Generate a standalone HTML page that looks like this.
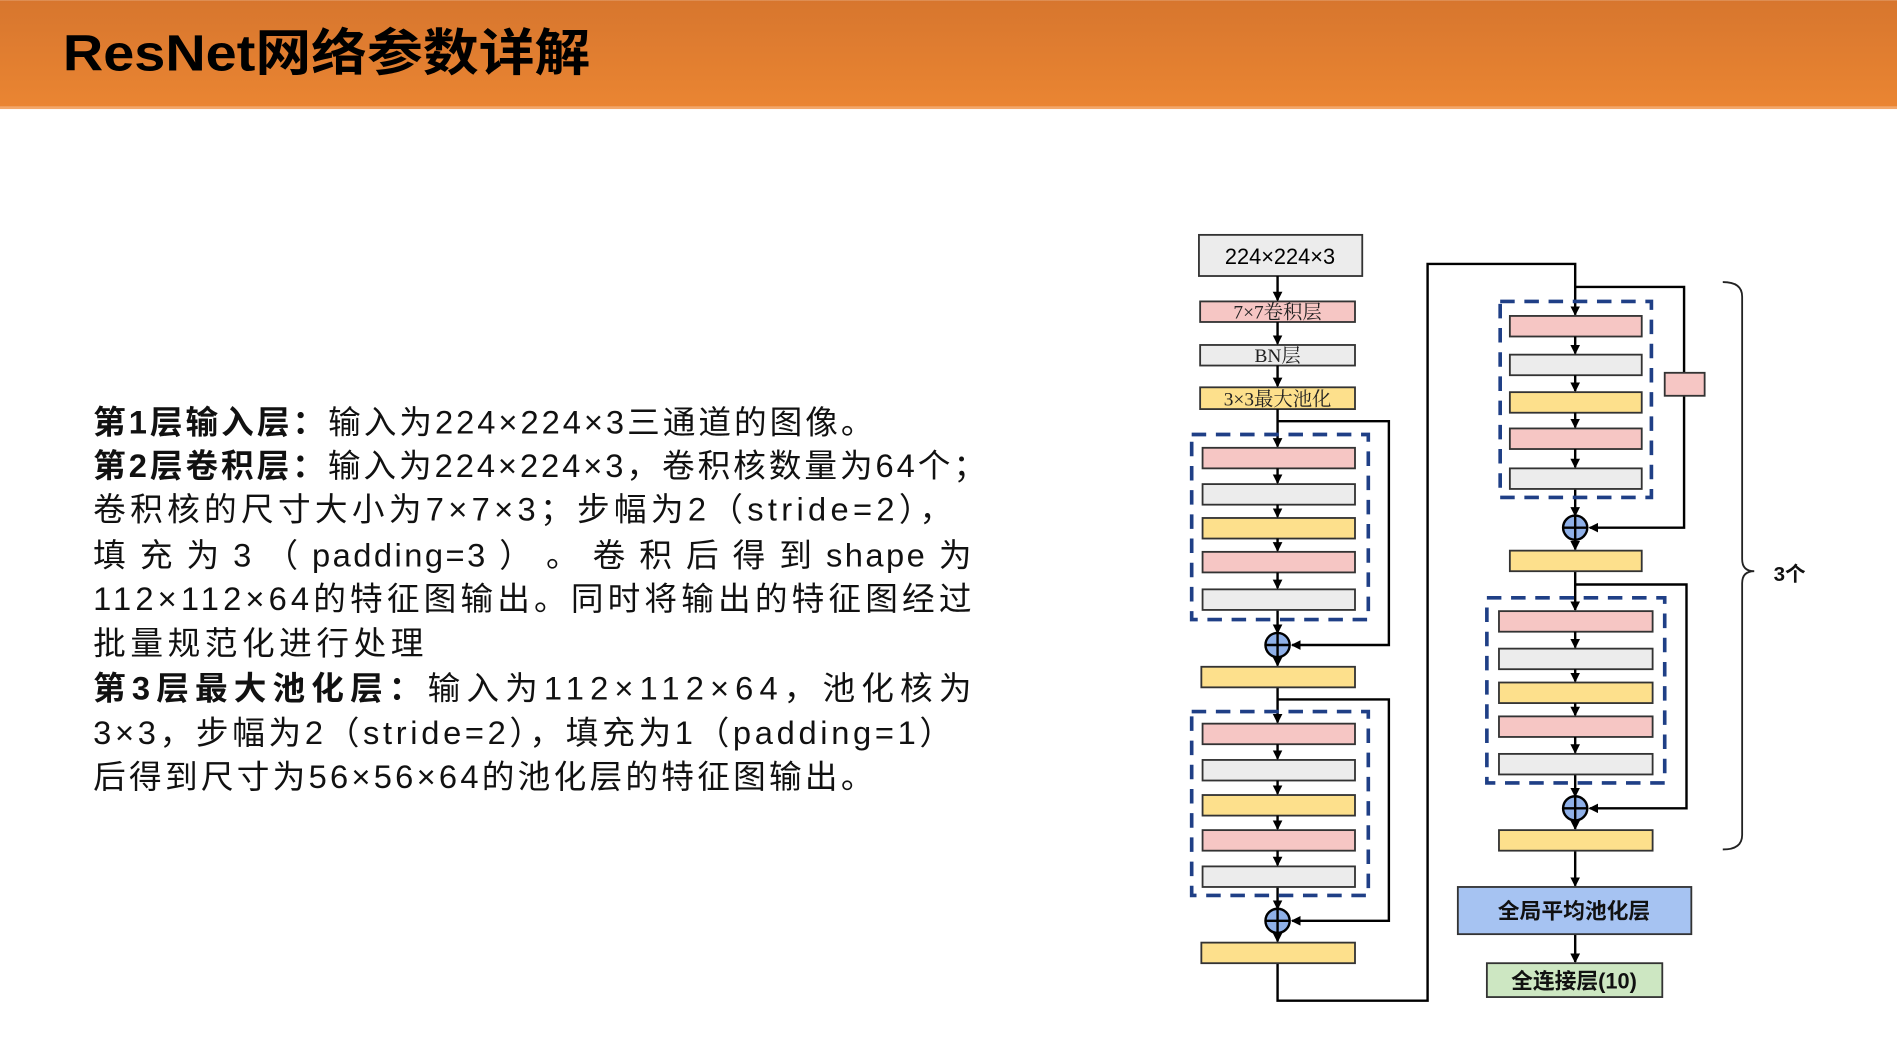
<!DOCTYPE html>
<html><head><meta charset="utf-8"><style>
html,body{margin:0;padding:0;background:#fff;width:1897px;height:1042px;overflow:hidden}
svg{display:block}
</style></head><body>
<svg width="1897" height="1042" viewBox="0 0 1568 861" xmlns="http://www.w3.org/2000/svg" font-family="'Liberation Sans','Noto Sans CJK SC',sans-serif">
<defs>
<linearGradient id="hg" x1="0" y1="0" x2="0" y2="1"><stop offset="0" stop-color="#d7762e"/><stop offset="1" stop-color="#ea8532"/></linearGradient>
<marker id="a" markerWidth="8" markerHeight="8" refX="7" refY="4" orient="auto" markerUnits="userSpaceOnUse"><path d="M0,0 L8,4 L0,8 z" fill="#000"/></marker>
</defs>
<rect x="0" y="0" width="1568" height="88" fill="url(#hg)"/>
<rect x="0" y="88" width="1568" height="2" fill="#f3a76a"/>
<text x="52" y="58" font-size="42" font-weight="bold" fill="#000" textLength="436" lengthAdjust="spacingAndGlyphs">ResNet网络参数详解</text>
<g font-size="27" fill="#111">
<text x="77" y="358" textLength="645" lengthAdjust="spacing"><tspan font-weight="bold">第1层输入层：</tspan>输入为224×224×3三通道的图像。</text>
<text x="77" y="394" textLength="738" lengthAdjust="spacing"><tspan font-weight="bold">第2层卷积层：</tspan>输入为224×224×3，卷积核数量为64个；</text>
<text x="77" y="430" textLength="710" lengthAdjust="spacing">卷积核的尺寸大小为7×7×3；步幅为2（stride=2），</text>
<text x="77" y="468" textLength="726" lengthAdjust="spacing">填 充 为 3 （ padding=3 ） 。 卷 积 后 得 到 shape 为</text>
<text x="77" y="504" textLength="726" lengthAdjust="spacing">112×112×64的特征图输出。同时将输出的特征图经过</text>
<text x="77" y="541" textLength="273" lengthAdjust="spacing">批量规范化进行处理</text>
<text x="77" y="578" textLength="726" lengthAdjust="spacing"><tspan font-weight="bold">第3层最大池化层：</tspan>输入为112×112×64，池化核为</text>
<text x="77" y="615" textLength="710" lengthAdjust="spacing">3×3，步幅为2（stride=2），填充为1（padding=1）</text>
<text x="77" y="651" textLength="645" lengthAdjust="spacing">后得到尺寸为56×56×64的池化层的特征图输出。</text>
</g>
<g stroke="#333" stroke-width="1.5">
<rect x="991" y="194" width="135" height="34" fill="#ececec"/>
<rect x="992" y="249" width="128" height="17" fill="#f6c6c4"/>
<rect x="992" y="285" width="128" height="17" fill="#ececec"/>
<rect x="992" y="320" width="128" height="18" fill="#fde08c"/>
</g>
<text x="1058" y="218" font-size="18" text-anchor="middle">224×224×3</text>
<g font-family="'Liberation Serif','Noto Serif CJK SC',serif" font-size="16" text-anchor="middle" fill="#222">
<text x="1056" y="263">7×7卷积层</text><text x="1056" y="299">BN层</text><text x="1056" y="335">3×3最大池化</text>
</g>
<g stroke="#000" stroke-width="2" fill="none">
<line x1="1056" y1="228" x2="1056" y2="248" marker-end="url(#a)"/>
<line x1="1056" y1="266" x2="1056" y2="284" marker-end="url(#a)"/>
<line x1="1056" y1="302" x2="1056" y2="319" marker-end="url(#a)"/>
<line x1="1056" y1="338" x2="1056" y2="369" marker-end="url(#a)"/>
<polyline points="1056,348 1148,348 1148,533 1068,533" marker-end="url(#a)"/>
<line x1="1056" y1="504" x2="1056" y2="523" marker-end="url(#a)"/>
<line x1="1056" y1="543" x2="1056" y2="550" marker-end="url(#a)"/>
<line x1="1056" y1="568" x2="1056" y2="597" marker-end="url(#a)"/>
<polyline points="1056,578 1148,578 1148,761 1068,761" marker-end="url(#a)"/>
<line x1="1056" y1="733" x2="1056" y2="751" marker-end="url(#a)"/>
<line x1="1056" y1="771" x2="1056" y2="778" marker-end="url(#a)"/>
<polyline points="1056,796 1056,827 1180,827 1180,218 1302,218 1302,260" marker-end="url(#a)"/>
<polyline points="1302,237 1392,237 1392,436 1314,436" marker-end="url(#a)"/>
<line x1="1302" y1="404" x2="1302" y2="426" marker-end="url(#a)"/>
<line x1="1302" y1="446" x2="1302" y2="454" marker-end="url(#a)"/>
<line x1="1302" y1="472" x2="1302" y2="504" marker-end="url(#a)"/>
<polyline points="1302,483 1394,483 1394,668 1314,668" marker-end="url(#a)"/>
<line x1="1302" y1="640" x2="1302" y2="658" marker-end="url(#a)"/>
<line x1="1302" y1="678" x2="1302" y2="685" marker-end="url(#a)"/>
<line x1="1302" y1="703" x2="1302" y2="732" marker-end="url(#a)"/>
<line x1="1302" y1="772" x2="1302" y2="795" marker-end="url(#a)"/>
</g>
<g stroke="#333" stroke-width="1.5">
<rect x="994" y="370" width="126" height="17" fill="#f6c6c4"/><rect x="994" y="400" width="126" height="17" fill="#ececec"/><rect x="994" y="428" width="126" height="17" fill="#fde08c"/><rect x="994" y="456" width="126" height="17" fill="#f6c6c4"/><rect x="994" y="487" width="126" height="17" fill="#ececec"/>
<rect x="993" y="551" width="127" height="17" fill="#fde08c"/>
<rect x="994" y="598" width="126" height="17" fill="#f6c6c4"/><rect x="994" y="628" width="126" height="17" fill="#ececec"/><rect x="994" y="657" width="126" height="17" fill="#fde08c"/><rect x="994" y="686" width="126" height="17" fill="#f6c6c4"/><rect x="994" y="716" width="126" height="17" fill="#ececec"/>
<rect x="993" y="779" width="127" height="17" fill="#fde08c"/>
<rect x="1248" y="261" width="109" height="17" fill="#f6c6c4"/><rect x="1248" y="293" width="109" height="17" fill="#ececec"/><rect x="1248" y="324" width="109" height="17" fill="#fde08c"/><rect x="1248" y="354" width="109" height="17" fill="#f6c6c4"/><rect x="1248" y="387" width="109" height="17" fill="#ececec"/>
<rect x="1248" y="455" width="109" height="17" fill="#fde08c"/>
<rect x="1376" y="308" width="33" height="19" fill="#f6c6c4"/>
<rect x="1239" y="505" width="127" height="17" fill="#f6c6c4"/><rect x="1239" y="536" width="127" height="17" fill="#ececec"/><rect x="1239" y="564" width="127" height="17" fill="#fde08c"/><rect x="1239" y="592" width="127" height="17" fill="#f6c6c4"/><rect x="1239" y="623" width="127" height="17" fill="#ececec"/>
<rect x="1239" y="686" width="127" height="17" fill="#fde08c"/>
<rect x="1205" y="733" width="193" height="39" fill="#a6c3f2"/>
<rect x="1229" y="796" width="145" height="28" fill="#cde7c2"/>
</g>
<g stroke="#000" stroke-width="2">
<line x1="1056" y1="387" x2="1056" y2="399" marker-end="url(#a)"/><line x1="1056" y1="417" x2="1056" y2="427" marker-end="url(#a)"/><line x1="1056" y1="445" x2="1056" y2="455" marker-end="url(#a)"/><line x1="1056" y1="473" x2="1056" y2="486" marker-end="url(#a)"/>
<line x1="1056" y1="615" x2="1056" y2="627" marker-end="url(#a)"/><line x1="1056" y1="645" x2="1056" y2="656" marker-end="url(#a)"/><line x1="1056" y1="674" x2="1056" y2="685" marker-end="url(#a)"/><line x1="1056" y1="703" x2="1056" y2="715" marker-end="url(#a)"/>
<line x1="1302" y1="278" x2="1302" y2="292" marker-end="url(#a)"/><line x1="1302" y1="310" x2="1302" y2="323" marker-end="url(#a)"/><line x1="1302" y1="341" x2="1302" y2="353" marker-end="url(#a)"/><line x1="1302" y1="371" x2="1302" y2="386" marker-end="url(#a)"/>
<line x1="1302" y1="522" x2="1302" y2="535" marker-end="url(#a)"/><line x1="1302" y1="553" x2="1302" y2="563" marker-end="url(#a)"/><line x1="1302" y1="581" x2="1302" y2="591" marker-end="url(#a)"/><line x1="1302" y1="609" x2="1302" y2="622" marker-end="url(#a)"/>
</g>
<g fill="none" stroke="#1f3f86" stroke-width="3" stroke-dasharray="12,8">
<rect x="985" y="359" width="146" height="153"/><rect x="985" y="588" width="146" height="152"/>
<rect x="1240" y="249" width="125" height="162"/><rect x="1229" y="494" width="147" height="153"/>
</g>
<g stroke="#000" stroke-width="2">
<circle cx="1056" cy="533" r="10" fill="#8fb0e8"/><line x1="1046" y1="533" x2="1066" y2="533"/><line x1="1056" y1="523" x2="1056" y2="543"/>
<circle cx="1056" cy="761" r="10" fill="#8fb0e8"/><line x1="1046" y1="761" x2="1066" y2="761"/><line x1="1056" y1="751" x2="1056" y2="771"/>
<circle cx="1302" cy="436" r="10" fill="#8fb0e8"/><line x1="1292" y1="436" x2="1312" y2="436"/><line x1="1302" y1="426" x2="1302" y2="446"/>
<circle cx="1302" cy="668" r="10" fill="#8fb0e8"/><line x1="1292" y1="668" x2="1312" y2="668"/><line x1="1302" y1="658" x2="1302" y2="678"/>
</g>
<g font-size="18" font-weight="bold" text-anchor="middle" fill="#111">
<text x="1301" y="759">全局平均池化层</text><text x="1301" y="817">全连接层(10)</text>
</g>
<path d="M1424,233 Q1440,233 1440,245 L1440,462 Q1440,472 1450,472 Q1440,472 1440,482 L1440,690 Q1440,702 1424,702" fill="none" stroke="#222" stroke-width="1.5"/>
<text x="1466" y="480" font-size="17" font-weight="bold" fill="#111">3个</text>
</svg>
</body></html>
